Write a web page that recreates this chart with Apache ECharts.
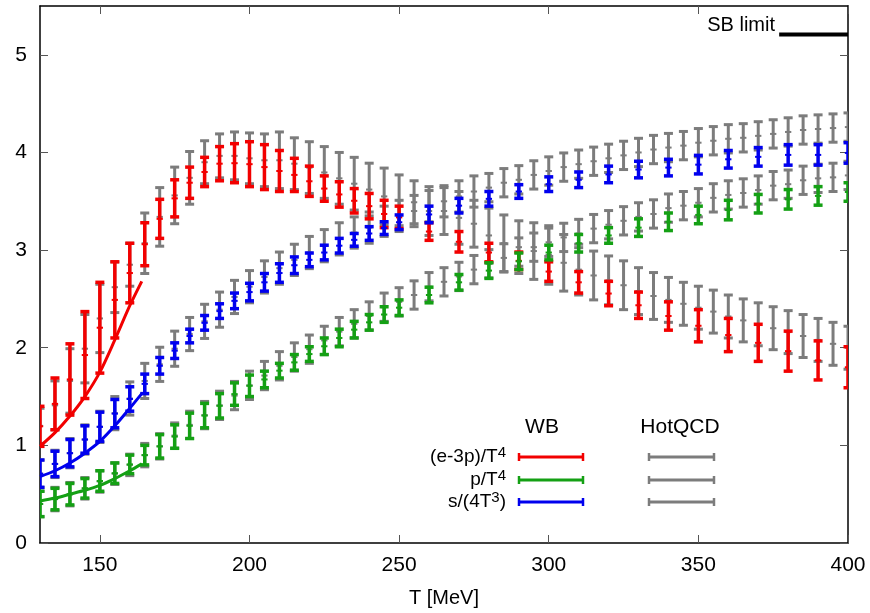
<!DOCTYPE html>
<html>
<head>
<meta charset="utf-8">
<script src="https://cdn.jsdelivr.net/npm/echarts@6/dist/echarts.min.js"></script>
<style>
  html, body { margin: 0; padding: 0; background: #fff; }
  #chart { width: 870px; height: 613px; }
</style>
</head>
<body>
<div id="chart"></div>
<script>
// ticks
const xTicks = [150, 200, 250, 300, 350, 400];
const yTicks = [0, 1, 2, 3, 4, 5];

// HotQCD (grey): centre value and error, every 5 MeV
const hqT = [130, 135, 140, 145, 150, 155, 160, 165, 170, 175, 180, 185, 190, 195, 200, 205, 210, 215, 220, 225, 230, 235, 240, 245, 250,
  255, 260, 265, 270, 275, 280, 285, 290, 295, 300, 305, 310, 315, 320, 325, 330, 335, 340, 345, 350, 355, 360, 365, 370, 375, 380, 385, 390, 395, 400];
const hqE3p = [1.20, 1.41, 1.66, 1.99, 2.30, 2.62, 2.85, 3.07, 3.34, 3.56, 3.74, 3.90, 3.965, 3.965, 3.94, 3.92, 3.92, 3.885, 3.845, 3.795, 3.735, 3.68, 3.62, 3.55, 3.51,
  3.49, 3.40, 3.40, 3.33, 3.27, 3.15, 3.07, 3.03, 2.99, 2.95, 2.87, 2.80, 2.74, 2.69, 2.64, 2.58, 2.53, 2.49, 2.45, 2.41, 2.37, 2.32, 2.28, 2.24, 2.20, 2.16, 2.12, 2.08, 2.04, 2.00];
const hqE3pErr = [0.18, 0.25, 0.33, 0.35, 0.35, 0.26, 0.22, 0.31, 0.30, 0.29, 0.27, 0.22, 0.225, 0.245, 0.26, 0.27, 0.29, 0.265, 0.265, 0.265, 0.265, 0.27, 0.27, 0.29, 0.26,
  0.22, 0.25, 0.24, 0.27, 0.24, 0.28, 0.29, 0.27, 0.29, 0.30, 0.29, 0.26, 0.25, 0.25, 0.25, 0.24, 0.24, 0.23, 0.22, 0.22, 0.22, 0.22, 0.22, 0.22, 0.22, 0.22, 0.22, 0.22, 0.22, 0.22];
const hqP = [0.40, 0.45, 0.50, 0.56, 0.63, 0.71, 0.80, 0.90, 0.99, 1.10, 1.21, 1.31, 1.41, 1.51, 1.615, 1.715, 1.815, 1.905, 1.985, 2.075, 2.165, 2.245, 2.325, 2.415, 2.47,
  2.54, 2.625, 2.675, 2.73, 2.80, 2.86, 2.92, 2.98, 3.03, 3.08, 3.13, 3.17, 3.22, 3.26, 3.30, 3.34, 3.37, 3.43, 3.455, 3.485, 3.535, 3.565, 3.585, 3.615, 3.66, 3.675, 3.715, 3.735, 3.745, 3.765];
const hqPErr = [0.13, 0.12, 0.12, 0.11, 0.11, 0.11, 0.11, 0.12, 0.13, 0.13, 0.14, 0.14, 0.145, 0.145, 0.145, 0.145, 0.145, 0.145, 0.145, 0.145, 0.145, 0.145, 0.145, 0.145, 0.145,
  0.145, 0.145, 0.145, 0.145, 0.145, 0.145, 0.145, 0.145, 0.145, 0.145, 0.145, 0.145, 0.145, 0.145, 0.145, 0.145, 0.145, 0.145, 0.145, 0.145, 0.145, 0.145, 0.145, 0.145, 0.145, 0.145, 0.145, 0.145, 0.145, 0.145];
const hqS = [0.71, 0.81, 0.92, 1.06, 1.19, 1.33, 1.48, 1.66, 1.83, 1.99, 2.14, 2.27, 2.39, 2.52, 2.625, 2.725, 2.815, 2.90, 2.975, 3.045, 3.115, 3.18, 3.23, 3.295, 3.35,
  3.40, 3.45, 3.50, 3.55, 3.60, 3.64, 3.69, 3.72, 3.77, 3.81, 3.85, 3.88, 3.91, 3.94, 3.97, 4.00, 4.03, 4.05, 4.07, 4.10, 4.12, 4.14, 4.15, 4.17, 4.19, 4.21, 4.23, 4.24, 4.25, 4.26];
const hqSErr = [0.14, 0.14, 0.15, 0.15, 0.16, 0.17, 0.17, 0.18, 0.175, 0.18, 0.17, 0.175, 0.18, 0.17, 0.165, 0.165, 0.165, 0.16, 0.165, 0.165, 0.165, 0.16, 0.16, 0.155, 0.16,
  0.16, 0.16, 0.16, 0.16, 0.16, 0.145, 0.145, 0.145, 0.145, 0.145, 0.145, 0.145, 0.145, 0.145, 0.145, 0.145, 0.145, 0.145, 0.145, 0.145, 0.145, 0.145, 0.145, 0.145, 0.145, 0.145, 0.145, 0.145, 0.145, 0.145];

// WB (colour): lower and upper ends of each bar
const wbT = [130, 135, 140, 145, 150, 155, 160, 165, 170, 175, 180, 185, 190, 195, 200, 205, 210, 215, 220, 225, 230, 235, 240, 245, 250,
  260, 270, 280, 290, 300, 310, 320, 330, 340, 350, 360, 370, 380, 390, 400];
const wbE3pLo = [0.99, 1.16, 1.31, 1.48, 1.74, 2.10, 2.46, 2.84, 3.12, 3.34, 3.53, 3.65, 3.71, 3.69, 3.65, 3.62, 3.60, 3.60, 3.55, 3.50, 3.44, 3.38, 3.32, 3.23, 3.22,
  3.10, 2.98, 2.88, 2.80, 2.68, 2.56, 2.43, 2.30, 2.18, 2.06, 1.96, 1.86, 1.76, 1.67, 1.59];
const wbE3pHi = [1.40, 1.69, 2.04, 2.37, 2.67, 2.88, 3.07, 3.28, 3.52, 3.72, 3.85, 3.95, 4.06, 4.09, 4.11, 4.08, 4.02, 3.94, 3.86, 3.76, 3.70, 3.63, 3.58, 3.51, 3.45,
  3.28, 3.19, 3.07, 2.98, 2.88, 2.78, 2.68, 2.57, 2.47, 2.39, 2.30, 2.24, 2.17, 2.07, 2.01];
const wbPLo = [0.27, 0.34, 0.39, 0.46, 0.53, 0.61, 0.71, 0.80, 0.87, 0.97, 1.07, 1.18, 1.28, 1.41, 1.50, 1.59, 1.69, 1.77, 1.86, 1.93, 2.01, 2.10, 2.18, 2.26, 2.33,
  2.46, 2.59, 2.71, 2.80, 2.90, 2.98, 3.07, 3.14, 3.20, 3.27, 3.31, 3.38, 3.42, 3.46, 3.50];
const wbPHi = [0.53, 0.56, 0.61, 0.66, 0.74, 0.82, 0.90, 1.00, 1.11, 1.21, 1.33, 1.43, 1.53, 1.64, 1.72, 1.76, 1.84, 1.93, 2.01, 2.10, 2.19, 2.27, 2.34, 2.42, 2.49,
  2.62, 2.75, 2.87, 2.97, 3.05, 3.16, 3.23, 3.32, 3.38, 3.45, 3.51, 3.57, 3.62, 3.65, 3.69];
const wbSLo = [0.57, 0.68, 0.78, 0.92, 1.04, 1.18, 1.35, 1.53, 1.73, 1.89, 2.05, 2.18, 2.30, 2.40, 2.48, 2.58, 2.67, 2.76, 2.83, 2.90, 2.97, 3.04, 3.10, 3.16, 3.21,
  3.28, 3.38, 3.45, 3.53, 3.60, 3.64, 3.69, 3.74, 3.76, 3.78, 3.84, 3.86, 3.87, 3.87, 3.89];
const wbSHi = [0.85, 0.94, 1.06, 1.20, 1.34, 1.47, 1.60, 1.73, 1.90, 2.05, 2.19, 2.33, 2.45, 2.56, 2.66, 2.76, 2.86, 2.93, 2.97, 3.05, 3.12, 3.17, 3.24, 3.29, 3.36,
  3.45, 3.53, 3.60, 3.67, 3.75, 3.80, 3.86, 3.91, 3.93, 3.97, 4.02, 4.05, 4.08, 4.08, 4.10];

// hadron resonance gas curves (low T)
const hrgT = [130, 135, 140, 145, 150, 155, 160, 164];
const hrgE3p = [0.99, 1.13, 1.30, 1.50, 1.75, 2.08, 2.43, 2.68];
const hrgS = [0.68, 0.74, 0.82, 0.92, 1.04, 1.20, 1.38, 1.53];
const hrgP = [0.43, 0.46, 0.50, 0.54, 0.59, 0.66, 0.74, 0.81];

// Stefan-Boltzmann limit
const sbLimit = 5.209;
const sbT = [377, 400];

const FONT = '"Liberation Sans", Arial, Helvetica, sans-serif';
const RED = '#f20000', GREEN = '#14a014', BLUE = '#0000ee', GREY = '#7c7c7c';

function hqData(c, e) {
  return hqT.map((t, i) => [t, c[i] - e[i], c[i] + e[i], c[i]]);
}
function wbData(lo, hi) {
  return wbT.map((t, i) => [t, lo[i], hi[i], (lo[i] + hi[i]) / 2]);
}
function pairs(xs, ys) {
  return xs.map((x, i) => [x, ys[i]]);
}

function errRender(color, lw, capW) {
  return function (params, api) {
    const x = api.value(0);
    const pLo = api.coord([x, api.value(1)]);
    const pHi = api.coord([x, api.value(2)]);
    const pC = api.coord([x, api.value(3)]);
    const h = capW / 2;
    const st = { stroke: color, lineWidth: lw };
    return {
      type: 'group',
      children: [
        { type: 'line', shape: { x1: pLo[0], y1: pLo[1], x2: pHi[0], y2: pHi[1] }, style: st },
        { type: 'line', shape: { x1: pHi[0] - h, y1: pHi[1], x2: pHi[0] + h, y2: pHi[1] }, style: st },
        { type: 'line', shape: { x1: pLo[0] - h, y1: pLo[1], x2: pLo[0] + h, y2: pLo[1] }, style: st },
        { type: 'line', shape: { x1: pC[0] - h * 0.7, y1: pC[1], x2: pC[0] + h * 0.7, y2: pC[1] }, style: { stroke: color, lineWidth: 2 } }
      ]
    };
  };
}

function errSeries(name, data, color, lw) {
  return {
    name: name,
    type: 'custom',
    clip: true,
    renderItem: errRender(color, lw, 9),
    encode: { x: 0, y: [1, 2] },
    data: data,
    z: 2
  };
}

function lineSeries(data, color, w) {
  return {
    type: 'line',
    data: data,
    showSymbol: false,
    smooth: 0.3,
    lineStyle: { color: color, width: w },
    z: 5,
    silent: true
  };
}

const axisLineStyle = { show: true, onZero: false, lineStyle: { color: '#000', width: 1.5 } };
const tickStyle = { color: '#555', width: 1 };

const legendRow = [457, 480, 502];
const legendLine = function (x1, x2, y, color) {
  return [
    { type: 'line', shape: { x1: x1, y1: y, x2: x2, y2: y }, style: { stroke: color, lineWidth: 3 } },
    { type: 'line', shape: { x1: x1, y1: y - 4, x2: x1, y2: y + 4 }, style: { stroke: color, lineWidth: 2.5 } },
    { type: 'line', shape: { x1: x2, y1: y - 4, x2: x2, y2: y + 4 }, style: { stroke: color, lineWidth: 2.5 } }
  ];
};
const richLabel = {
  a: { fontSize: 19, fontFamily: FONT, color: '#000', lineHeight: 24 },
  s: { fontSize: 15, fontFamily: FONT, color: '#000', verticalAlign: 'top', lineHeight: 10 }
};
function legendText(text, y) {
  return {
    type: 'text', x: 506, y: y,
    style: { text: text, rich: richLabel, align: 'right', verticalAlign: 'middle' },
    z: 10
  };
}

const chart = echarts.init(document.getElementById('chart'));
chart.setOption({
  animation: false,
  backgroundColor: '#fff',
  grid: { left: 40, right: 22, top: 6, bottom: 70, containLabel: false },
  xAxis: [{
    type: 'value', min: 130, max: 400, position: 'bottom',
    axisLine: axisLineStyle,
    axisTick: { inside: true, length: 8, customValues: xTicks, lineStyle: tickStyle },
    axisLabel: { customValues: xTicks, fontSize: 21, color: '#000', margin: 12, fontFamily: FONT },
    splitLine: { show: false },
    name: 'T [MeV]', nameLocation: 'middle', nameGap: 45,
    nameTextStyle: { fontSize: 20, color: '#000', fontFamily: FONT }
  }, {
    type: 'value', min: 130, max: 400, position: 'top',
    axisLine: axisLineStyle,
    axisTick: { inside: true, length: 8, customValues: xTicks, lineStyle: tickStyle },
    axisLabel: { show: false },
    splitLine: { show: false }
  }],
  yAxis: [{
    type: 'value', min: 0, max: 5.5, position: 'left',
    axisLine: axisLineStyle,
    axisTick: { inside: true, length: 8, customValues: yTicks, lineStyle: tickStyle },
    axisLabel: { customValues: yTicks, fontSize: 21, color: '#000', margin: 13, fontFamily: FONT },
    splitLine: { show: false }
  }, {
    type: 'value', min: 0, max: 5.5, position: 'right',
    axisLine: axisLineStyle,
    axisTick: { inside: true, length: 8, customValues: yTicks, lineStyle: tickStyle },
    axisLabel: { show: false },
    splitLine: { show: false }
  }],
  series: [
    errSeries('HotQCD e-3p', hqData(hqE3p, hqE3pErr), GREY, 3),
    errSeries('HotQCD p', hqData(hqP, hqPErr), GREY, 3),
    errSeries('HotQCD s', hqData(hqS, hqSErr), GREY, 3),
    errSeries('WB e-3p', wbData(wbE3pLo, wbE3pHi), RED, 3.5),
    errSeries('WB p', wbData(wbPLo, wbPHi), GREEN, 3.5),
    errSeries('WB s', wbData(wbSLo, wbSHi), BLUE, 3.5),
    lineSeries(pairs(hrgT, hrgE3p), RED, 3),
    lineSeries(pairs(hrgT, hrgS), BLUE, 3),
    lineSeries(pairs(hrgT, hrgP), GREEN, 3),
    {
      type: 'line',
      data: pairs(sbT, [sbLimit, sbLimit]),
      showSymbol: false,
      lineStyle: { color: '#000', width: 4 },
      z: 5,
      silent: true
    }
  ],
  graphic: [
    { type: 'text', x: 775, y: 25, style: { text: 'SB limit', font: '20px ' + FONT, fill: '#000', align: 'right', verticalAlign: 'middle' }, z: 10 },
    { type: 'text', x: 542, y: 427, style: { text: 'WB', font: '21px ' + FONT, fill: '#000', align: 'center', verticalAlign: 'middle' }, z: 10 },
    { type: 'text', x: 680, y: 427, style: { text: 'HotQCD', font: '21px ' + FONT, fill: '#000', align: 'center', verticalAlign: 'middle' }, z: 10 },
    legendText('{a|(e-3p)/T}{s|4}', legendRow[0]),
    legendText('{a|p/T}{s|4}', legendRow[1]),
    legendText('{a|s/(4T}{s|3}{a|)}', legendRow[2]),
    ...legendLine(519, 583, legendRow[0], RED),
    ...legendLine(519, 583, legendRow[1], GREEN),
    ...legendLine(519, 583, legendRow[2], BLUE),
    ...legendLine(649, 714, legendRow[0], GREY),
    ...legendLine(649, 714, legendRow[1], GREY),
    ...legendLine(649, 714, legendRow[2], GREY)
  ]
});
</script>
</body>
</html>
